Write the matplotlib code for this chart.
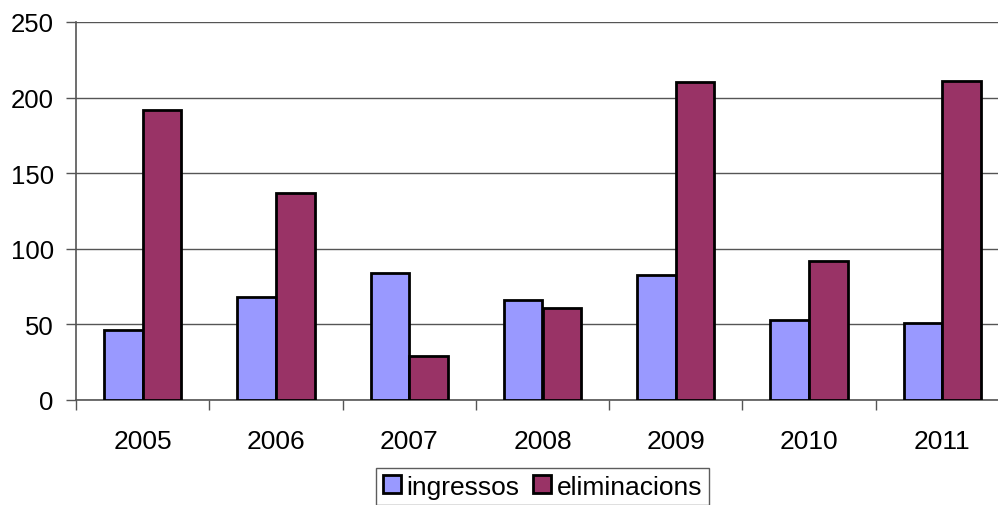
import numpy as np
import matplotlib
matplotlib.use('Agg')
import matplotlib.pyplot as plt
from matplotlib import rc

rc('font', **{'family': ['Liberation Sans', 'DejaVu Sans'], 'size': 19})

years = ['2005', '2006', '2007', '2008', '2009', '2010', '2011']
ingressos = [46, 68, 84, 66, 83, 53, 51]
eliminacions = [192, 137, 29, 61, 210, 92, 211]

fig = plt.figure(figsize=(9.98, 5.06), dpi=100)
# plot area runs slightly past the right edge, as in the original
ax = fig.add_axes([76 / 998, 1 - 401 / 506, 933 / 998, 378 / 506])

x = np.arange(len(years))
w = 0.29
ax.bar(x - w / 2, ingressos, w, color='#9999FF', edgecolor='black', lw=2, label='ingressos', zorder=3)
ax.bar(x + w / 2, eliminacions, w, color='#993366', edgecolor='black', lw=2, label='eliminacions', zorder=3)

ax.set_xlim(-0.5, len(years) - 0.5)
ax.set_ylim(0, 250)
ax.set_yticks(range(0, 251, 50))
ax.set_xticks(x)
ax.set_xticklabels(years)
ax.set_xticks(np.arange(-0.5, len(years), 1), minor=True)
ax.tick_params(axis='x', which='major', length=0, pad=21)
ax.tick_params(axis='x', which='minor', length=7, color='#555555', width=1)
ax.tick_params(axis='y', length=7, color='#555555', width=1, pad=9, labelsize=18.5)

ax.grid(axis='y', color='#555555', lw=1, zorder=0)
for s in ['top', 'right']:
    ax.spines[s].set_visible(False)
for s in ['left', 'bottom']:
    ax.spines[s].set_color('#555555')
    ax.spines[s].set_linewidth(1.2)

leg = fig.legend(loc='upper left', bbox_to_anchor=(376 / 998, 1 - 469 / 506), ncol=2,
                 frameon=True, fancybox=False, handlelength=0.68, handleheight=0.68,
                 handletextpad=0.23, columnspacing=0.5, borderpad=0.25, borderaxespad=0)
leg.get_frame().set_edgecolor('#333333')
leg.get_frame().set_linewidth(1)

fig.savefig('out.png', dpi=100)
